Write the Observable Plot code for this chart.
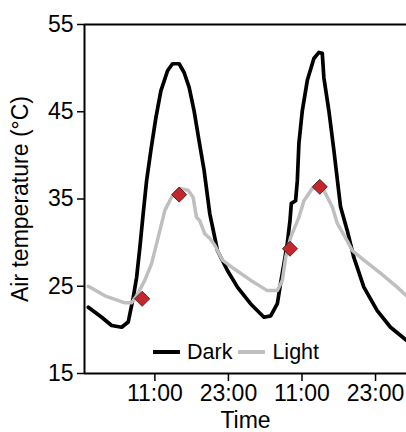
<!DOCTYPE html>
<html><head><meta charset="utf-8">
<script src="https://cdn.jsdelivr.net/npm/d3@7"></script>
<script src="https://cdn.jsdelivr.net/npm/@observablehq/plot@0.6"></script>
<style>
body{margin:0;background:#fff}
#wrap{position:relative;width:406px;height:432px;font-family:"Liberation Sans",Arial,sans-serif}
#legend{position:absolute;left:153px;top:338px;display:flex;align-items:center;font-size:21.5px;color:#000;line-height:28px}
.sw{display:inline-block;width:27px;height:4px;margin-right:7px}
</style></head><body><div id="wrap"></div><script>
// time in hours from midnight of day 1
const darkHours = [0.14,2.32,3.95,5.58,6.65,7.47,8.02,8.56,9.09,9.65,10.35,11.16,11.98,13.07,13.88,14.96,15.77,16.59,17.4,18.2,19.03,19.96,20.77,21.2,22.84,24.47,26.6,28.8,29.9,30.98,31.5,32.06,32.6,33.04,33.26,33.96,34.24,34.5,35.05,35.87,36.94,37.76,38.31,38.57,39.39,40.2,41.29,42.38,43.46,45.09,47.27,49.44,52.04];
const darkTemp  = [22.6,21.45,20.5,20.3,20.9,23.7,26.0,29.5,33.3,37.1,40.6,44.3,47.4,49.7,50.5,50.5,49.5,47.8,45.1,41.7,38.3,33.3,30.6,29.1,26.8,24.9,23.0,21.45,21.6,23.0,25.3,27.6,29.9,32.5,34.5,34.8,37.1,41.4,45.1,48.6,51.1,51.8,51.7,48.9,45.1,40.6,34.1,31.4,28.3,24.9,22.2,20.3,18.8];
const lightHours = [0.14,2.86,6.11,7.2,8.02,9.37,10.46,11.54,12.63,13.72,15.07,16.42,17.24,17.79,18.33,19.14,19.96,20.77,22.03,23.92,26.6,29.35,30.98,31.8,32.34,33.15,34.5,35.32,36.68,38.04,38.57,39.94,40.76,42.38,43.2,45.09,47.8,50.53,52.04];
const lightTemp  = [25.0,23.9,23.1,23.1,23.9,25.7,27.6,30.6,33.7,35.2,36.2,36.0,35.2,32.9,32.5,31.0,30.5,29.7,28.0,27.0,25.7,24.5,24.5,25.7,28.3,30.6,32.9,34.8,36.2,36.5,36.0,34.1,32.2,30.2,29.1,28.0,26.5,24.9,23.9];
const markerHours = [8.93,14.96,33.04,37.9];
const markerTemp  = [23.56,35.5,29.3,36.4];
const xTicks = [11,23,35,47];
const xTickLabels = ["11:00","23:00","11:00","23:00"];
const yTicks = [15,25,35,45,55];
const xDomain = [-0.48,52.05];
const yDomain = [15,55];

const dark = darkHours.map((h,i)=>({h, v: darkTemp[i]}));
const light = lightHours.map((h,i)=>({h, v: lightTemp[i]}));
const markers = markerHours.map((h,i)=>({h, v: markerTemp[i]}));

const chart = Plot.plot({
  width:406, height:432,
  marginLeft:84, marginRight:0, marginTop:24, marginBottom:59,
  style:{fontFamily:'"Liberation Sans",Arial,sans-serif', fontSize:"23px", color:"#000", background:"#fff"},
  x:{domain:xDomain},
  y:{domain:yDomain},
  marks:[
    Plot.axisY({ticks:yTicks, tickSize:7, tickPadding:4, strokeWidth:1.5, fontSize:23,
      label:"Air temperature (°C)", labelAnchor:"center", labelArrow:"none", labelOffset:73}),
    Plot.axisX({ticks:xTicks, tickFormat:d=>xTickLabels[xTicks.indexOf(d)], tickSize:8, tickPadding:3, strokeWidth:1.5, fontSize:23,
      label:"Time", labelAnchor:"center", labelArrow:"none", labelOffset:54}),
    Plot.ruleX([xDomain[0]], {stroke:"#000", strokeWidth:2}),
    Plot.ruleY(yDomain, {stroke:"#000", strokeWidth:2}),
    Plot.line(dark, {x:"h", y:"v", stroke:"#000", strokeWidth:3.7, clip:true}),
    Plot.line(light, {x:"h", y:"v", stroke:"#bfbfbf", strokeWidth:3.5, clip:true}),
    Plot.dot(markers, {x:"h", y:"v", symbol:"diamond2", r:6.8, fill:"#c1272d", stroke:"#3b1414", strokeWidth:0.8})
  ]
});
const wrap = document.getElementById("wrap");
wrap.appendChild(chart);
const legend = document.createElement("div");
legend.id = "legend";
legend.innerHTML = '<span class="sw" style="background:#000"></span><span>Dark</span>' +
  '<span class="sw" style="background:#bfbfbf;margin-left:6px"></span><span>Light</span>';
wrap.appendChild(legend);
</script></body></html>
